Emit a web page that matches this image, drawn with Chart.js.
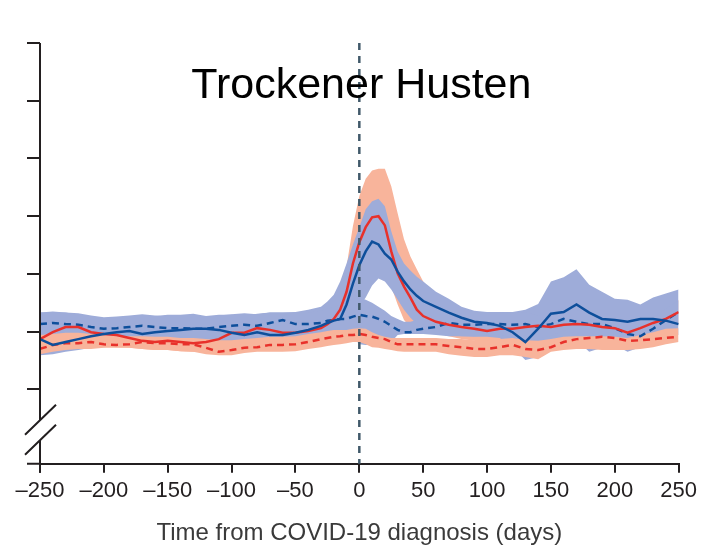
<!DOCTYPE html>
<html>
<head>
<meta charset="utf-8">
<script src="https://cdn.jsdelivr.net/npm/chart.js@4.4.1/dist/chart.umd.min.js"></script>
<style>
  html, body { margin: 0; padding: 0; background: #fff; }
  #wrap { width: 702px; height: 551px; position: relative; }
</style>
</head>
<body>
<div id="wrap"><canvas id="chart"></canvas></div>
<script>
// Tage relativ zur Diagnose
const days = [
  -250, -240, -230, -220, -210, -200, -190, -180, -170, -160, -150, -140, -130, -120, -110, -100, -90, -80, -70, -60, -50, -40,
  -30, -25, -20, -15, -10, -5, 0, 5, 10, 15, 20, 25, 30, 35, 40, 45, 50,
  60, 70, 80, 90, 100, 110, 120, 130, 140, 150, 160, 170, 180, 190, 200, 210, 220, 230, 240, 250
];

// rot, durchgezogen
const redSolid = [
  0.87, 0.99, 1.08, 1.08, 0.99, 0.96, 0.94, 0.89, 0.84, 0.82, 0.84, 0.82, 0.80, 0.82, 0.87, 0.98, 0.98, 1.06, 1.03, 0.98, 0.98, 1.01,
  1.06, 1.13, 1.22, 1.38, 1.69, 2.18, 2.55, 2.81, 2.98, 3.00, 2.84, 2.39, 2.01, 1.78, 1.59, 1.38, 1.27,
  1.17, 1.12, 1.08, 1.05, 1.01, 1.05, 1.05, 1.08, 1.10, 1.08, 1.12, 1.13, 1.12, 1.08, 1.06, 0.98, 1.06, 1.15, 1.22, 1.34
];
const redSolidHi = [
  1.08, 1.20, 1.29, 1.29, 1.20, 1.17, 1.15, 1.10, 1.05, 1.03, 1.05, 1.03, 1.01, 1.03, 1.08, 1.19, 1.19, 1.29, 1.24, 1.19, 1.19, 1.22,
  1.31, 1.38, 1.52, 1.69, 2.13, 2.83, 3.35, 3.65, 3.79, 3.82, 3.82, 3.52, 3.05, 2.60, 2.30, 2.08, 1.87,
  1.57, 1.43, 1.34, 1.26, 1.22, 1.26, 1.26, 1.29, 1.31, 1.29, 1.33, 1.34, 1.33, 1.29, 1.27, 1.19, 1.27, 1.36, 1.43, 1.55
];
const redSolidLo = [
  0.66, 0.78, 0.87, 0.87, 0.78, 0.75, 0.73, 0.72, 0.70, 0.68, 0.68, 0.66, 0.65, 0.65, 0.66, 0.77, 0.77, 0.85, 0.82, 0.77, 0.77, 0.80,
  0.85, 0.89, 0.94, 1.03, 1.20, 1.52, 1.78, 1.95, 2.08, 2.13, 2.04, 1.78, 1.47, 1.20, 1.08, 1.03, 1.01,
  0.99, 0.92, 0.87, 0.84, 0.80, 0.84, 0.84, 0.87, 0.89, 0.87, 0.91, 0.92, 0.91, 0.87, 0.85, 0.77, 0.85, 0.94, 1.01, 1.13
];

// blau, durchgezogen
const blueSolid = [
  0.87, 0.77, 0.82, 0.87, 0.92, 0.96, 0.99, 1.01, 0.96, 0.99, 1.01, 1.03, 1.05, 1.05, 1.03, 0.98, 0.94, 0.99, 0.94, 0.94, 0.98, 1.03,
  1.10, 1.15, 1.19, 1.22, 1.47, 1.83, 2.15, 2.39, 2.56, 2.51, 2.35, 2.25, 2.04, 1.87, 1.73, 1.62, 1.53,
  1.43, 1.33, 1.24, 1.17, 1.15, 1.10, 0.99, 0.82, 1.05, 1.31, 1.34, 1.47, 1.33, 1.22, 1.20, 1.17, 1.22, 1.22, 1.19, 1.13
];
const blueSolidHi = [
  1.33, 1.33, 1.33, 1.29, 1.26, 1.22, 1.22, 1.24, 1.26, 1.27, 1.29, 1.29, 1.31, 1.27, 1.29, 1.29, 1.27, 1.31, 1.33, 1.33, 1.34, 1.38,
  1.43, 1.52, 1.64, 1.87, 2.18, 2.51, 2.81, 3.12, 3.26, 3.30, 3.17, 2.74, 2.39, 2.18, 2.06, 1.95, 1.87,
  1.69, 1.57, 1.43, 1.36, 1.34, 1.34, 1.34, 1.38, 1.48, 1.87, 1.94, 2.08, 1.81, 1.69, 1.57, 1.55, 1.47, 1.59, 1.66, 1.73
];
const blueSolidLo = [
  0.59, 0.61, 0.65, 0.68, 0.72, 0.73, 0.75, 0.75, 0.75, 0.77, 0.77, 0.77, 0.75, 0.73, 0.72, 0.72, 0.73, 0.78, 0.82, 0.82, 0.85, 0.89,
  0.92, 0.96, 0.99, 1.03, 1.13, 1.31, 1.43, 1.59, 1.80, 1.92, 1.87, 1.73, 1.55, 1.38, 1.24, 1.13, 1.08,
  0.99, 0.94, 0.92, 0.91, 0.91, 0.89, 0.73, 0.51, 0.56, 0.82, 0.87, 0.85, 0.65, 0.72, 0.77, 0.65, 0.73, 0.85, 0.91, 0.94
];

// blau, gestrichelt
const blueDashed = [
  1.13, 1.15, 1.13, 1.12, 1.08, 1.05, 1.06, 1.08, 1.10, 1.08, 1.06, 1.06, 1.05, 1.05, 1.08, 1.10, 1.12, 1.10, 1.15, 1.20, 1.13, 1.13,
  1.15, 1.19, 1.20, 1.22, 1.22, 1.26, 1.29, 1.27, 1.26, 1.22, 1.17, 1.10, 1.03, 0.99, 0.99, 1.03, 1.05,
  1.08, 1.15, 1.12, 1.12, 1.13, 1.13, 1.12, 1.13, 1.08, 1.13, 1.22, 1.17, 1.13, 1.13, 1.06, 0.96, 0.92, 1.05, 1.20, 1.34
];
const blueDashedHi = [
  1.33, 1.35, 1.33, 1.32, 1.28, 1.25, 1.26, 1.28, 1.30, 1.28, 1.26, 1.26, 1.25, 1.25, 1.28, 1.30, 1.32, 1.30, 1.33, 1.33, 1.33, 1.33,
  1.36, 1.40, 1.42, 1.46, 1.52, 1.55, 1.59, 1.55, 1.50, 1.43, 1.36, 1.27, 1.22, 1.17, 1.17, 1.20, 1.22,
  1.27, 1.35, 1.32, 1.32, 1.33, 1.33, 1.32, 1.33, 1.28, 1.33, 1.42, 1.37, 1.33, 1.33, 1.26, 1.16, 1.12, 1.25, 1.40, 1.54
];
const blueDashedLo = [
  0.93, 0.95, 0.93, 0.92, 0.88, 0.85, 0.86, 0.88, 0.90, 0.88, 0.86, 0.86, 0.85, 0.85, 0.88, 0.90, 0.92, 0.90, 0.95, 1.00, 0.93, 0.93,
  0.95, 0.98, 0.99, 0.99, 0.99, 0.91, 0.78, 0.77, 0.77, 0.77, 0.78, 0.82, 0.94, 0.96, 0.96, 0.96, 0.96,
  0.94, 0.92, 0.92, 0.92, 0.93, 0.93, 0.92, 0.93, 0.88, 0.93, 1.02, 0.97, 0.93, 0.93, 0.86, 0.76, 0.72, 0.85, 1.00, 1.14
];

// rot, gestrichelt
const redDashed = [
  0.70, 0.77, 0.80, 0.80, 0.82, 0.78, 0.77, 0.78, 0.82, 0.80, 0.80, 0.78, 0.78, 0.72, 0.65, 0.68, 0.72, 0.73, 0.77, 0.77, 0.78, 0.82,
  0.87, 0.89, 0.91, 0.92, 0.94, 0.94, 0.96, 0.94, 0.91, 0.89, 0.87, 0.82, 0.78, 0.78, 0.78, 0.78, 0.78,
  0.78, 0.75, 0.73, 0.70, 0.70, 0.73, 0.77, 0.70, 0.68, 0.73, 0.82, 0.87, 0.89, 0.91, 0.89, 0.84, 0.85, 0.87, 0.89, 0.91
];
const redDashedHi = [
  0.94, 0.96, 0.98, 0.98, 0.96, 0.94, 0.92, 0.92, 0.92, 0.91, 0.91, 0.89, 0.89, 0.87, 0.85, 0.85, 0.87, 0.89, 0.91, 0.91, 0.92, 0.96,
  0.99, 1.01, 1.03, 1.03, 1.03, 1.05, 1.06, 1.05, 0.99, 0.94, 0.91, 0.89, 0.89, 0.89, 0.89, 0.89, 0.89,
  0.89, 0.87, 0.87, 0.85, 0.85, 0.87, 0.89, 0.85, 0.84, 0.87, 0.91, 0.92, 0.92, 0.92, 0.91, 0.89, 0.94, 0.99, 1.05, 1.06
];
const redDashedLo = [
  0.61, 0.65, 0.68, 0.70, 0.70, 0.72, 0.72, 0.72, 0.70, 0.68, 0.68, 0.66, 0.65, 0.61, 0.59, 0.59, 0.63, 0.65, 0.65, 0.65, 0.66, 0.70,
  0.73, 0.75, 0.77, 0.78, 0.80, 0.82, 0.82, 0.78, 0.73, 0.72, 0.70, 0.68, 0.66, 0.65, 0.65, 0.65, 0.65,
  0.65, 0.61, 0.58, 0.56, 0.56, 0.59, 0.59, 0.56, 0.52, 0.65, 0.68, 0.70, 0.70, 0.68, 0.68, 0.68, 0.70, 0.73, 0.78, 0.82
];

// Achsen
const xTicks = [-250, -200, -150, -100, -50, 0, 50, 100, 150, 200, 250];
const yTicks = [0, 1, 2, 3, 4, 5, 6];
const yMin = -1.29;
const yMax = 6;
const yBreak = -0.7;

const RED = '#e8312b';
const BLUE = '#0e4f9b';
const SALMON = '#f8b49b';
const PERI = '#9eacd9';

function pts(arr) {
  return days.map((d, i) => ({ x: d, y: arr[i] }));
}

function line(arr, color, dashed) {
  return {
    data: pts(arr),
    borderColor: color,
    borderWidth: 2.5,
    borderDash: dashed ? [7, 5] : [],
    pointRadius: 0,
    fill: false,
    tension: 0
  };
}

function bandTop(arr, color) {
  return {
    data: pts(arr),
    borderWidth: 0,
    borderColor: 'rgba(0,0,0,0)',
    backgroundColor: color,
    pointRadius: 0,
    fill: '+1',
    tension: 0
  };
}

function bandBottom(arr) {
  return {
    data: pts(arr),
    borderWidth: 0,
    borderColor: 'rgba(0,0,0,0)',
    pointRadius: 0,
    fill: false,
    tension: 0
  };
}

// Achsen, Achsenbruch, Titel und Markierung bei Tag 0
const decor = {
  id: 'decor',
  afterDatasetsDraw(chart) {
    const ctx = chart.ctx;
    const ca = chart.chartArea;
    const x0 = chart.scales.x.getPixelForValue(0);
    ctx.save();
    ctx.strokeStyle = '#41596a';
    ctx.lineWidth = 2.5;
    ctx.setLineDash([7, 6]);
    ctx.beginPath();
    ctx.moveTo(x0, ca.top);
    ctx.lineTo(x0, ca.bottom);
    ctx.stroke();
    ctx.restore();
  },
  afterDraw(chart) {
    const ctx = chart.ctx;
    const ca = chart.chartArea;
    const ys = chart.scales.y;
    const ax = ca.left;
    const yb = ys.getPixelForValue(yBreak);
    ctx.save();
    ctx.strokeStyle = '#231f20';
    ctx.lineWidth = 2;
    ctx.beginPath();
    ctx.moveTo(ax, ca.top);
    ctx.lineTo(ax, yb - 10);
    ctx.moveTo(ax, yb + 10);
    ctx.lineTo(ax, ca.bottom + 9);
    ctx.moveTo(ax - 13, ca.bottom);
    ctx.lineTo(ax, ca.bottom);
    yTicks.forEach(v => {
      const y = Math.round(ys.getPixelForValue(v));
      ctx.moveTo(ax - 13, y);
      ctx.lineTo(ax, y);
    });
    [-10, 10].forEach(off => {
      ctx.moveTo(ax - 15, yb + off + 15);
      ctx.lineTo(ax + 16, yb + off - 15);
    });
    ctx.stroke();

    ctx.fillStyle = '#000';
    ctx.font = '43px "Liberation Sans", Arial, sans-serif';
    ctx.textAlign = 'center';
    ctx.textBaseline = 'alphabetic';
    ctx.fillText('Trockener Husten', (ca.left + ca.right) / 2 + 2, ca.top + 55);
    ctx.restore();
  }
};

new Chart(document.getElementById('chart'), {
  type: 'line',
  data: {
    datasets: [
      line(blueSolid, BLUE, false),
      line(redSolid, RED, false),
      line(blueDashed, BLUE, true),
      line(redDashed, RED, true),
      bandTop(redDashedHi, SALMON),
      bandBottom(redDashedLo),
      bandTop(blueDashedHi, PERI),
      bandBottom(blueDashedLo),
      bandTop(blueSolidHi, PERI),
      bandBottom(blueSolidLo),
      bandTop(redSolidHi, SALMON),
      bandBottom(redSolidLo)
    ]
  },
  options: {
    responsive: true,
    maintainAspectRatio: false,
    animation: false,
    layout: { padding: { left: 40, right: 23, top: 43, bottom: 3 } },
    plugins: {
      legend: { display: false },
      tooltip: { enabled: false },
      title: { display: false }
    },
    scales: {
      x: {
        type: 'linear',
        min: -250,
        max: 250,
        afterBuildTicks: scale => { scale.ticks = xTicks.map(v => ({ value: v })); },
        ticks: {
          autoSkip: false,
          maxRotation: 0,
          padding: 5,
          color: '#231f20',
          font: { family: '"Liberation Sans", Arial, sans-serif', size: 22 },
          callback: v => (v < 0 ? '\u2013' + Math.abs(v) : String(v))
        },
        grid: {
          drawOnChartArea: false,
          drawTicks: true,
          tickLength: 9,
          color: '#231f20',
          lineWidth: 2
        },
        border: { display: true, color: '#231f20', width: 2 },
        title: {
          display: true,
          text: 'Time from COVID-19 diagnosis (days)',
          color: '#3a3a3a',
          font: { family: '"Liberation Sans", Arial, sans-serif', size: 24 },
          padding: { top: 10, bottom: 0 }
        }
      },
      y: {
        type: 'linear',
        display: false,
        min: yMin,
        max: yMax
      }
    }
  },
  plugins: [decor]
});
</script>
</body>
</html>
